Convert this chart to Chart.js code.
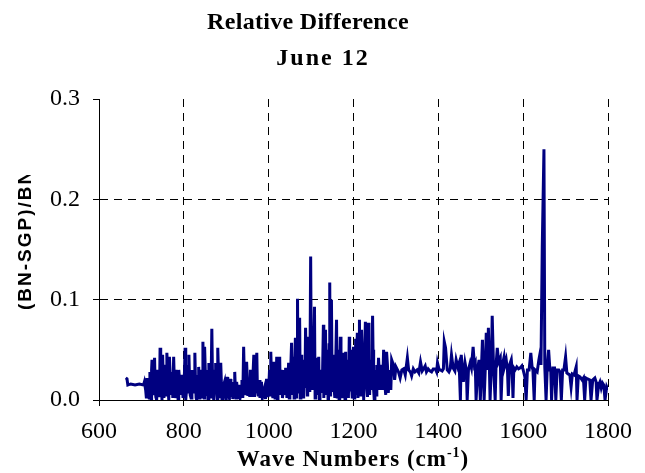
<!DOCTYPE html>
<html>
<head>
<meta charset="utf-8">
<script src="https://cdn.jsdelivr.net/npm/chart.js@4/dist/chart.umd.min.js"></script>
<style>
  html, body { margin: 0; padding: 0; background: #fff; }
  #grafico { display: block; }
</style>
</head>
<body>
<canvas id="grafico" width="645" height="473"></canvas>
<script>
// datos (picos y valles principales)
const waveNumbers = [
  663, 666, 668, 675, 685, 695, 705, 710, 713, 716,
  720, 723, 725, 728, 731, 734, 738, 741, 744, 747,
  750, 753, 756, 760, 763, 766, 769, 772, 776, 779,
  782, 785, 788, 792, 796, 800, 803, 806, 809, 812,
  815, 819, 822, 826, 829, 832, 835, 838, 841, 845,
  847, 849, 852, 855, 859, 862, 866, 869, 872, 875,
  878, 880, 883, 887, 890, 894, 898, 902, 905, 910,
  912, 914, 917, 920, 923, 926, 929, 933, 937, 941,
  944, 948, 951, 954, 957, 960, 965, 968, 972, 975,
  978, 981, 985, 990, 995, 998, 1002, 1005, 1008, 1012,
  1015, 1019, 1022, 1026, 1028, 1031, 1034, 1037, 1040, 1043,
  1047, 1050, 1054, 1057, 1059, 1061, 1063, 1066, 1068, 1071,
  1073, 1076, 1078, 1081, 1084, 1087, 1090, 1092, 1095, 1099,
  1101, 1104, 1108, 1111, 1113, 1116, 1118, 1121, 1125, 1129,
  1131, 1134, 1137, 1139, 1141, 1144, 1146, 1148, 1151, 1153,
  1156, 1160, 1163, 1165, 1167, 1169, 1172, 1176, 1179, 1181,
  1183, 1186, 1190, 1192, 1195, 1197, 1200, 1203, 1205, 1207,
  1209, 1212, 1214, 1217, 1219, 1222, 1224, 1228, 1231, 1235,
  1238, 1241, 1245, 1247, 1249, 1252, 1255, 1259, 1262, 1266,
  1271, 1274, 1278, 1282, 1286, 1290, 1294, 1297, 1300, 1306,
  1310, 1314, 1318, 1322, 1327, 1330, 1334, 1337, 1341, 1345,
  1350, 1354, 1358, 1362, 1365, 1369, 1372, 1376, 1380, 1384,
  1388, 1393, 1396, 1398, 1402, 1405, 1409, 1412, 1414, 1417,
  1421, 1425, 1428, 1431, 1435, 1439, 1442, 1446, 1449, 1452,
  1454, 1457, 1459, 1463, 1466, 1468, 1471, 1475, 1478, 1482,
  1485, 1487, 1489, 1493, 1496, 1499, 1504, 1506, 1508, 1511,
  1513, 1516, 1518, 1520, 1522, 1525, 1527, 1530, 1534, 1536,
  1539, 1542, 1546, 1548, 1551, 1555, 1557, 1560, 1563, 1565,
  1568, 1572, 1574, 1576, 1578, 1581, 1585, 1589, 1593, 1597,
  1600, 1604, 1607, 1610, 1614, 1618, 1621, 1623, 1626, 1628,
  1633, 1637, 1640, 1642, 1645, 1649, 1651, 1654, 1657, 1660,
  1663, 1665, 1667, 1670, 1674, 1677, 1680, 1684, 1687, 1690,
  1693, 1696, 1700, 1703, 1706, 1710, 1713, 1716, 1720, 1725,
  1727, 1730, 1734, 1739, 1742, 1745, 1748, 1752, 1757, 1760,
  1764, 1769, 1772, 1774, 1778, 1781, 1784, 1787, 1790, 1793,
  1797, 1800
];
const relDiff = [
  0.022, 0.021, 0.015, 0.016, 0.015, 0.016, 0.015, 0.010, 0.022, 0.005,
  0.028, 0.000, 0.040, 0.010, 0.042, 0.003, 0.030, 0.008, 0.052, 0.015,
  0.045, 0.002, 0.035, 0.047, 0.010, 0.043, 0.005, 0.025, 0.043, 0.002,
  0.030, 0.012, 0.030, 0.005, 0.025, 0.010, 0.052, 0.008, 0.035, 0.045,
  0.005, 0.030, 0.010, 0.047, 0.002, 0.025, 0.033, 0.005, 0.020, 0.058,
  0.015, 0.053, 0.004, 0.025, 0.037, 0.003, 0.071, 0.010, 0.030, 0.037,
  0.005, 0.052, 0.010, 0.037, 0.000, 0.015, 0.005, 0.023, 0.008, 0.021,
  0.003, 0.018, 0.006, 0.028, 0.002, 0.010, 0.007, 0.003, 0.020, 0.053,
  0.010, 0.038, 0.004, 0.020, 0.030, 0.003, 0.045, 0.012, 0.047, 0.005,
  0.020, 0.010, 0.002, 0.012, 0.021, 0.003, 0.030, 0.048, 0.008, 0.038,
  0.002, 0.043, 0.010, 0.043, 0.005, 0.023, 0.008, 0.020, 0.032, 0.002,
  0.037, 0.010, 0.057, 0.005, 0.043, 0.015, 0.062, 0.020, 0.101, 0.030,
  0.082, 0.010, 0.023, 0.003, 0.040, 0.072, 0.015, 0.063, 0.030, 0.143,
  0.062, 0.010, 0.093, 0.020, 0.042, 0.005, 0.043, 0.015, 0.007, 0.075,
  0.020, 0.070, 0.005, 0.030, 0.010, 0.117, 0.040, 0.100, 0.008, 0.030,
  0.002, 0.080, 0.020, 0.050, 0.005, 0.063, 0.010, 0.047, 0.015, 0.048,
  0.006, 0.030, 0.063, 0.010, 0.050, 0.003, 0.053, 0.012, 0.061, 0.005,
  0.067, 0.020, 0.080, 0.040, 0.070, 0.010, 0.000, 0.078, 0.015, 0.077,
  0.005, 0.040, 0.084, 0.030, 0.000, 0.020, 0.035, 0.042, 0.010, 0.035,
  0.050, 0.015, 0.048, 0.007, 0.030, 0.040, 0.035, 0.020, 0.033, 0.028,
  0.022, 0.030, 0.031, 0.025, 0.042, 0.030, 0.028, 0.024, 0.031, 0.028,
  0.030, 0.027, 0.038, 0.029, 0.031, 0.034, 0.028, 0.031, 0.029, 0.028,
  0.031, 0.031, 0.028, 0.037, 0.030, 0.030, 0.029, 0.031, 0.058, 0.052,
  0.030, 0.028, 0.031, 0.045, 0.032, 0.029, 0.040, 0.033, 0.037, 0.000,
  0.045, 0.030, 0.018, 0.037, 0.030, 0.000, 0.030, 0.037, 0.032, 0.053,
  0.035, 0.037, 0.000, 0.032, 0.040, 0.000, 0.060, 0.030, 0.000, 0.035,
  0.067, 0.030, 0.072, 0.040, 0.000, 0.035, 0.084, 0.035, 0.000, 0.034,
  0.052, 0.038, 0.042, 0.000, 0.035, 0.043, 0.035, 0.040, 0.030, 0.004,
  0.035, 0.040, 0.030, 0.002, 0.032, 0.030, 0.033, 0.031, 0.032, 0.034,
  0.030, 0.023, 0.000, 0.030, 0.030, 0.047, 0.033, 0.030, 0.000, 0.030,
  0.028, 0.040, 0.047, 0.035, 0.152, 0.250, 0.033, 0.000, 0.035, 0.050,
  0.030, 0.030, 0.000, 0.032, 0.032, 0.000, 0.030, 0.030, 0.028, 0.000,
  0.030, 0.030, 0.043, 0.027, 0.026, 0.025, 0.013, 0.026, 0.025, 0.033,
  0.000, 0.024, 0.023, 0.020, 0.022, 0.000, 0.022, 0.021, 0.020, 0.000,
  0.020, 0.022, 0.018, 0.000, 0.015, 0.018, 0.012, 0.017, 0.015, 0.000,
  0.013, 0.010
];
// valores intermedios de la zona densa (700-1290)
const waveNumbersDense = [
  707, 711.5, 714.5, 718, 721.5, 724, 726.5, 729.5, 732.5, 736,
  739.5, 742.5, 745.5, 748.5, 751.5, 754.5, 758, 761.5, 764.5, 767.5,
  770.5, 774, 777.5, 780.5, 783.5, 786.5, 790, 794, 798, 801.5,
  804.5, 807.5, 810.5, 813.5, 817, 820.5, 824, 827.5, 830.5, 833.5,
  836.5, 839.5, 843, 846, 848, 850.5, 853.5, 857, 860.5, 864,
  867.5, 870.5, 873.5, 876.5, 879, 881.5, 885, 888.5, 892, 896,
  900, 903.5, 907.5, 911, 915.5, 918.5, 921.5, 924.5, 927.5, 931,
  935, 939, 942.5, 946, 949.5, 952.5, 955.5, 958.5, 962.5, 966.5,
  970, 973.5, 976.5, 979.5, 983, 987.5, 992.5, 996.5, 1000, 1003.5,
  1006.5, 1010, 1013.5, 1017, 1020.5, 1024, 1027, 1029.5, 1032.5, 1035.5,
  1038.5, 1041.5, 1045, 1048.5, 1052, 1055.5, 1058, 1060, 1062, 1064.5,
  1067, 1069.5, 1072, 1074.5, 1077, 1079.5, 1082.5, 1085.5, 1088.5, 1091,
  1093.5, 1097, 1100, 1102.5, 1106, 1109.5, 1112, 1114.5, 1117, 1119.5,
  1123, 1127, 1130, 1132.5, 1135.5, 1138, 1140, 1142.5, 1145, 1147,
  1149.5, 1152, 1154.5, 1158, 1161.5, 1164, 1166, 1168, 1170.5, 1174,
  1177.5, 1180, 1182, 1184.5, 1188, 1191, 1193.5, 1196, 1198.5, 1201.5,
  1204, 1206, 1208, 1210.5, 1213, 1215.5, 1218, 1220.5, 1223, 1226,
  1229.5, 1233, 1236.5, 1239.5, 1243, 1246, 1248, 1250.5, 1253.5, 1257,
  1260.5, 1264, 1268.5, 1272.5, 1276, 1280, 1284, 1288
];
const relDiffDense = [
  0.018, 0.003, 0.015, 0.002, 0.020, 0.030, 0.005, 0.025, 0.012, 0.000,
  0.022, 0.003, 0.030, 0.000, 0.020, 0.010, 0.005, 0.030, 0.000, 0.028,
  0.012, 0.002, 0.020, 0.008, 0.022, 0.000, 0.020, 0.018, 0.002, 0.028,
  0.000, 0.020, 0.008, 0.020, 0.002, 0.022, 0.008, 0.018, 0.000, 0.012,
  0.002, 0.030, 0.003, 0.030, 0.002, 0.030, 0.018, 0.000, 0.025, 0.008,
  0.025, 0.000, 0.015, 0.022, 0.000, 0.030, 0.002, 0.018, 0.010, 0.018,
  0.000, 0.015, 0.002, 0.012, 0.001, 0.015, 0.010, 0.018, 0.001, 0.015,
  0.008, 0.002, 0.025, 0.005, 0.022, 0.012, 0.003, 0.015, 0.020, 0.003,
  0.025, 0.010, 0.015, 0.002, 0.018, 0.008, 0.001, 0.012, 0.010, 0.005,
  0.025, 0.002, 0.020, 0.010, 0.000, 0.025, 0.015, 0.030, 0.002, 0.030,
  0.005, 0.020, 0.015, 0.002, 0.030, 0.012, 0.025, 0.002, 0.035, 0.003,
  0.045, 0.008, 0.040, 0.002, 0.045, 0.010, 0.025, 0.012, 0.030, 0.005,
  0.040, 0.008, 0.070, 0.030, 0.050, 0.002, 0.028, 0.015, 0.030, 0.000,
  0.030, 0.025, 0.002, 0.045, 0.012, 0.050, 0.000, 0.055, 0.005, 0.060,
  0.020, 0.045, 0.010, 0.035, 0.003, 0.030, 0.000, 0.030, 0.025, 0.002,
  0.030, 0.000, 0.030, 0.040, 0.002, 0.035, 0.030, 0.010, 0.040, 0.002,
  0.035, 0.020, 0.040, 0.002, 0.045, 0.005, 0.035, 0.045, 0.030, 0.040,
  0.040, 0.003, 0.040, 0.030, 0.010, 0.050, 0.010, 0.030, 0.005, 0.020,
  0.030, 0.020, 0.010, 0.030, 0.005, 0.035, 0.020, 0.010
];
const xTicks = [600, 800, 1000, 1200, 1400, 1600, 1800];
const yTicks = [0.0, 0.1, 0.2, 0.3];
const titulo1 = 'Relative Difference';
const titulo2 = 'June 12';
const tituloX = 'Wave Numbers (cm';
const tituloXsup = '-1';
const tituloY = '(BN-SGP)/BN';

const SERIF = '"Liberation Serif", "Times New Roman", serif';
const SANS = '"Liberation Sans", Arial, sans-serif';

// textos que no son ejes: titulo, titulo x con superindice, titulo y recortado
const textosPlugin = {
  id: 'textos',
  afterDraw(chart) {
    const ctx = chart.ctx;
    ctx.save();
    ctx.fillStyle = '#000';
    ctx.textBaseline = 'alphabetic';
    ctx.textAlign = 'center';
    ctx.font = 'bold 24px ' + SERIF;
    ctx.letterSpacing = '0.3px';
    ctx.fillText(titulo1, 308, 29);
    ctx.letterSpacing = '2px';
    ctx.fillText(titulo2, 323, 65);

    // titulo eje x
    ctx.letterSpacing = '1px';
    ctx.font = 'bold 23px ' + SERIF;
    const w1 = ctx.measureText(tituloX).width;
    const w3 = ctx.measureText(')').width;
    ctx.font = 'bold 14px ' + SERIF;
    const w2 = ctx.measureText(tituloXsup).width;
    const total = w1 + w2 + w3;
    let x0 = 353 - total / 2;
    const yb = 466;
    ctx.textAlign = 'left';
    ctx.font = 'bold 23px ' + SERIF;
    ctx.fillText(tituloX, x0, yb);
    ctx.font = 'bold 14px ' + SERIF;
    ctx.fillText(tituloXsup, x0 + w1, yb - 9);
    ctx.font = 'bold 23px ' + SERIF;
    ctx.fillText(')', x0 + w1 + w2, yb);

    // titulo eje y (recortado arriba como en el original)
    ctx.beginPath();
    ctx.rect(0, 175, 60, 300);
    ctx.clip();
    ctx.translate(31, 310);
    ctx.rotate(-Math.PI / 2);
    ctx.font = 'bold 19px ' + SANS;
    ctx.letterSpacing = '2px';
    ctx.textAlign = 'left';
    ctx.fillText(tituloY, 0, 0);
    ctx.restore();
  }
};

// juntar las dos listas y ordenar por numero de onda
const puntos = waveNumbers.map((w, i) => ({ x: w, y: relDiff[i] }))
  .concat(waveNumbersDense.map((w, i) => ({ x: w, y: relDiffDense[i] })))
  .sort((a, b) => a.x - b.x);

new Chart(document.getElementById('grafico'), {
  type: 'line',
  data: {
    datasets: [{
      data: puntos,
      borderColor: '#000080',
      borderWidth: 3,
      pointRadius: 0,
      tension: 0,
      fill: false
    }]
  },
  options: {
    responsive: false,
    animation: false,
    layout: { padding: { top: 99, right: 37, left: 0, bottom: 0 } },
    plugins: {
      legend: { display: false },
      title: { display: false },
      tooltip: { enabled: false }
    },
    scales: {
      x: {
        type: 'linear',
        min: 600,
        max: 1800,
        afterBuildTicks: s => { s.ticks = xTicks.map(v => ({ value: v })); },
        afterFit: s => { s.height = 73; },
        ticks: {
          color: '#000',
          font: { family: SERIF, size: 24 },
          padding: 11,
          maxRotation: 0,
          autoSkip: false,
          callback: v => String(v)
        },
        grid: {
          color: c => (c.tick && c.tick.value > 600) ? '#000' : 'rgba(0,0,0,0)',
          tickColor: '#000',
          tickLength: 6,
          lineWidth: 1
        },
        border: { display: true, color: '#000', width: 1, dash: [8, 6] }
      },
      y: {
        min: 0,
        max: 0.3,
        afterBuildTicks: s => { s.ticks = yTicks.map(v => ({ value: v })); },
        afterFit: s => { s.width = 99; },
        ticks: {
          color: '#000',
          font: { family: SERIF, size: 24 },
          padding: 13,
          callback: v => Number(v).toFixed(1)
        },
        grid: {
          color: c => (c.tick && c.tick.value > 0.05 && c.tick.value < 0.25) ? '#000' : 'rgba(0,0,0,0)',
          tickColor: '#000',
          tickLength: 6,
          lineWidth: 1
        },
        border: { display: true, color: '#000', width: 1, dash: [8, 6] }
      }
    }
  },
  plugins: [textosPlugin]
});
</script>
</body>
</html>
